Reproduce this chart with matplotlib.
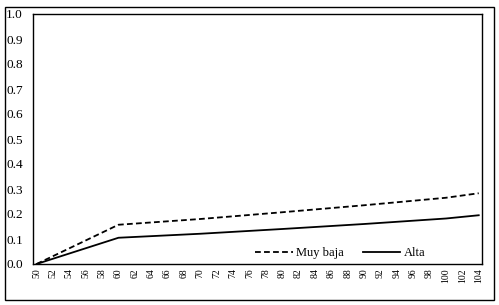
import matplotlib
matplotlib.use("Agg")
import matplotlib.pyplot as plt
from matplotlib.patches import Rectangle

# values
edad = [50, 60, 70, 80, 90, 100, 104]
muy_baja = [0.0, 0.157, 0.180, 0.207, 0.235, 0.265, 0.283]
alta = [0.0, 0.105, 0.121, 0.140, 0.160, 0.182, 0.195]
xticks = list(range(50, 105, 2))
yticks = [x / 10 for x in range(0, 11)]

plt.rcParams['font.family'] = ['Liberation Serif', 'DejaVu Serif']

fig = plt.figure(figsize=(4.99, 3.05), dpi=100)
ax = fig.add_axes([32.5 / 499, 1 - 264 / 305, (482 - 32.5) / 499, (264 - 14) / 305])

ax.plot(edad, muy_baja, color='black', lw=1.3, dashes=(3.2, 1.8), label='Muy baja')
ax.plot(edad, alta, color='black', lw=1.3, label='Alta')

ax.set_xlim(49.5, 104.4)
ax.set_ylim(0, 1.0)
ax.set_xticks(xticks)
ax.set_xticklabels([str(t) for t in xticks], rotation=90, fontsize=7)
ax.set_yticks(yticks)
ax.set_yticklabels([f'{t:.1f}' for t in yticks], fontsize=9.5)
ax.tick_params(axis='both', length=0)
ax.tick_params(axis='y', pad=7)
ax.tick_params(axis='x', pad=3)
for s in ax.spines.values():
    s.set_linewidth(1.0)
    s.set_color('black')

ax.legend(loc='lower right', bbox_to_anchor=(0.9, -0.025), ncol=2, frameon=False,
          fontsize=9, handlelength=3.0, columnspacing=1.5, handletextpad=0.3)

# outer frame round the whole chart
fig.patches.append(Rectangle((4.5 / 499, 5 / 305), (494 - 4.5) / 499, (299 - 6) / 305,
                             transform=fig.transFigure, fill=False, edgecolor='black', lw=1.0))

fig.savefig('out.png', dpi=100)
